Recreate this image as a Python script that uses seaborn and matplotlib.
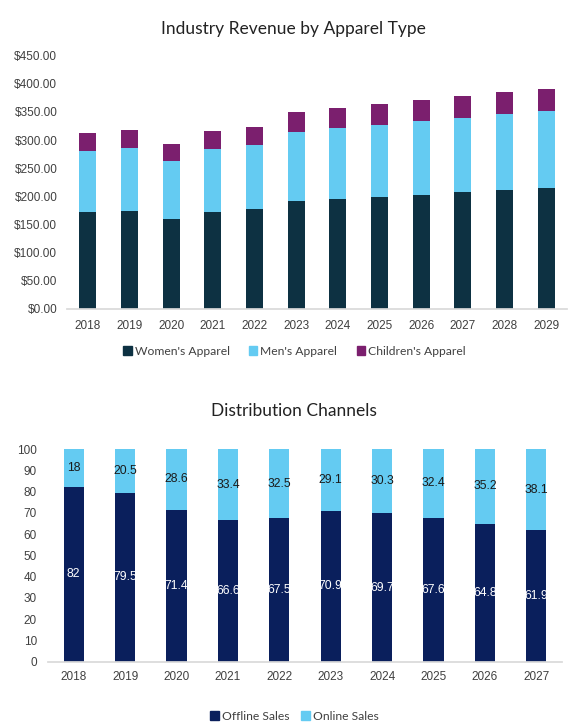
import matplotlib
matplotlib.use("Agg")
import matplotlib.pyplot as plt
from matplotlib.ticker import FuncFormatter, MultipleLocator
from matplotlib.patches import Patch
import numpy as np
import pandas as pd
import seaborn as sns

# ---- data: Industry Revenue by Apparel Type ----
rev_years = ["2018", "2019", "2020", "2021", "2022", "2023",
             "2024", "2025", "2026", "2027", "2028", "2029"]
womens = [172.3, 174.0, 159.9, 172.3, 177.6, 191.8, 195.4, 198.9, 202.5, 207.8, 211.4, 214.9]
mens = [108.3, 112.6, 103.6, 111.9, 113.7, 122.6, 126.1, 127.9, 131.4, 131.5, 135.0, 136.8]
childrens = [32.0, 31.9, 29.6, 32.6, 32.0, 36.1, 35.5, 37.3, 37.3, 39.0, 39.0, 39.1]
rev_series = ["Women's Apparel", "Men's Apparel", "Children's Apparel"]

# ---- data: Distribution Channels ----
ch_years = ["2018", "2019", "2020", "2021", "2022", "2023", "2024", "2025", "2026", "2027"]
offline = [82, 79.5, 71.4, 66.6, 67.5, 70.9, 69.7, 67.6, 64.8, 61.9]
online = [18, 20.5, 28.6, 33.4, 32.5, 29.1, 30.3, 32.4, 35.2, 38.1]
ch_series = ["Offline Sales", "Online Sales"]

C_WOMEN = "#0D3142"
C_MEN = "#64CBF2"
C_CHILD = "#7B1F6E"
C_OFF = "#0A1F5C"
C_ON = "#64CBF2"

sns.set_theme(style="white")
plt.rcParams["font.family"] = ["Liberation Sans", "DejaVu Sans"]

fig = plt.figure(figsize=(5.74, 7.27), dpi=100)

# ---------- Top chart ----------
ax1 = fig.add_axes([67 / 574, 1 - 309 / 727, 500 / 574, 253.3 / 727])
df1 = pd.DataFrame({"year": rev_years, "w": womens, "m": mens, "c": childrens})
bottom = np.zeros(len(rev_years))
for col, color, name in zip(["w", "m", "c"], [C_WOMEN, C_MEN, C_CHILD], rev_series):
    sns.barplot(data=df1, x="year", y=col, color=color, width=0.41, bottom=bottom,
                errorbar=None, ax=ax1, saturation=1, linewidth=0, label=name)
    bottom = bottom + df1[col].values
ax1.set_ylim(0, 450)
ax1.set_xlim(-0.5, len(rev_years) - 0.5)
ax1.yaxis.set_major_locator(MultipleLocator(50))
ax1.yaxis.set_major_formatter(FuncFormatter(lambda v, p: f"${v:,.2f}"))
ax1.set_xlabel("")
ax1.set_ylabel("")
for s in ["top", "right", "left"]:
    ax1.spines[s].set_visible(False)
ax1.spines["bottom"].set_color("#D9D9D9")
ax1.tick_params(axis="both", length=0, labelsize=8.5, colors="#404040")
ax1.tick_params(axis="y", pad=7)
ax1.tick_params(axis="x", pad=8)
if ax1.get_legend():
    ax1.get_legend().remove()

handles1 = [Patch(color=c) for c in [C_WOMEN, C_MEN, C_CHILD]]
fig.legend(handles1, rev_series, loc="center", bbox_to_anchor=(0.513, 1 - 351 / 727),
           ncol=3, frameon=False, handlelength=0.7, handleheight=0.7, handletextpad=0.25,
           columnspacing=1.6, prop={"family": "Lato", "size": 8.7}, labelcolor="#404040")

fig.text(0.512, 1 - 29 / 727, "Industry Revenue by Apparel Type", ha="center", va="center",
         fontsize=12.5, family="Lato", color="#222222")

# ---------- Bottom chart ----------
ax2 = fig.add_axes([48 / 574, 1 - 661.7 / 727, 514 / 574, 212.7 / 727])
df2 = pd.DataFrame({"year": ch_years, "off": offline, "on": online})
sns.barplot(data=df2, x="year", y="off", color=C_OFF, width=0.39, errorbar=None,
            ax=ax2, saturation=1, linewidth=0, label=ch_series[0])
sns.barplot(data=df2, x="year", y="on", color=C_ON, width=0.39, bottom=df2["off"].values,
            errorbar=None, ax=ax2, saturation=1, linewidth=0, label=ch_series[1])
for i, (a, b) in enumerate(zip(offline, online)):
    ax2.text(i, a / 2, f"{a:g}", ha="center", va="center", fontsize=8.7, color="white")
    ax2.text(i, a + b / 2, f"{b:g}", ha="center", va="center", fontsize=8.7, color="#1a1a1a")
ax2.set_ylim(0, 100)
ax2.set_xlim(-0.5, len(ch_years) - 0.5)
ax2.yaxis.set_major_locator(MultipleLocator(10))
ax2.set_xlabel("")
ax2.set_ylabel("")
for s in ["top", "right", "left"]:
    ax2.spines[s].set_visible(False)
ax2.spines["bottom"].set_color("#D9D9D9")
ax2.tick_params(axis="both", length=0, labelsize=8.5, colors="#404040")
ax2.tick_params(axis="y", pad=8)
ax2.tick_params(axis="x", pad=7)
if ax2.get_legend():
    ax2.get_legend().remove()

handles2 = [Patch(color=c) for c in [C_OFF, C_ON]]
fig.legend(handles2, ch_series, loc="center", bbox_to_anchor=(0.513, 1 - 716 / 727),
           ncol=2, frameon=False, handlelength=0.7, handleheight=0.7, handletextpad=0.25,
           columnspacing=1.0, prop={"family": "Lato", "size": 8.7}, labelcolor="#404040")

fig.text(0.512, 1 - 411 / 727, "Distribution Channels", ha="center", va="center",
         fontsize=12.5, family="Lato", color="#222222")

fig.savefig("out.png", dpi=100)
